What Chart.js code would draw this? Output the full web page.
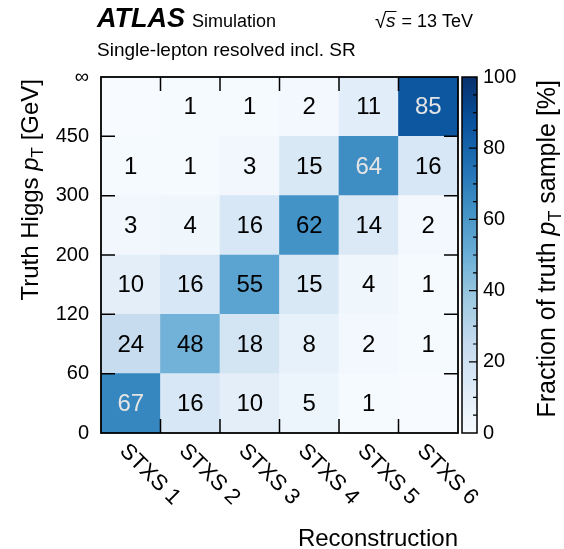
<!DOCTYPE html>
<html>
<head>
<meta charset="utf-8">
<script src="https://cdn.jsdelivr.net/npm/chart.js@4.4.0/dist/chart.umd.min.js"></script>
<style>
  html, body { margin: 0; padding: 0; background: #fff; }
  #grafico { position: relative; width: 564px; height: 549px; }
</style>
</head>
<body>
<div id="grafico"><canvas id="matrizMigracao" width="564" height="549"></canvas></div>
<script>
// Categorias reconstruídas (eixo x) e limites dos bins de pT verdadeiro (eixo y)
const categorias = ['STXS 1', 'STXS 2', 'STXS 3', 'STXS 4', 'STXS 5', 'STXS 6'];
const limitesPt = ['0', '60', '120', '200', '300', '450', '\u221E'];

// Fração (%) de cada bin verdadeiro em cada categoria; null = célula sem rótulo
const bin0a60 = [67, 16, 10, 5, 1, null];
const bin60a120 = [24, 48, 18, 8, 2, 1];
const bin120a200 = [10, 16, 55, 15, 4, 1];
const bin200a300 = [3, 4, 16, 62, 14, 2];
const bin300a450 = [1, 1, 3, 15, 64, 16];
const bin450aInf = [null, 1, 1, 2, 11, 85];
const linhas = [bin0a60, bin60a120, bin120a200, bin200a300, bin300a450, bin450aInf];

// Escala de cores da barra lateral
const ticksBarra = [0, 20, 40, 60, 80, 100];

const FONTE = '"Liberation Sans", Arial, Helvetica, sans-serif';

// Mapa de cores "Blues"
const paletaBlues = ['#f7fbff', '#deebf7', '#c6dbef', '#9ecae1', '#6baed6', '#4292c6', '#2171b5', '#08519c', '#08306b'];

function hexParaRgb(hex) {
    return [1, 3, 5].map(i => parseInt(hex.substr(i, 2), 16));
}

function corBlues(f) {
    f = Math.max(0, Math.min(1, f));
    const pos = f * (paletaBlues.length - 1);
    const i = Math.min(Math.floor(pos), paletaBlues.length - 2);
    const t = pos - i;
    const a = hexParaRgb(paletaBlues[i]);
    const b = hexParaRgb(paletaBlues[i + 1]);
    const c = a.map((v, k) => Math.round(v + (b[k] - v) * t));
    return `rgb(${c[0]}, ${c[1]}, ${c[2]})`;
}

// Escreve texto com trechos de fontes diferentes (itálico, subscrito)
function larguraRica(ctx, partes) {
    let total = 0;
    partes.forEach(p => {
        ctx.font = p.fonte;
        total += ctx.measureText(p.texto).width;
    });
    return total;
}

function desenharRico(ctx, partes, x, y) {
    ctx.textAlign = 'left';
    ctx.textBaseline = 'alphabetic';
    partes.forEach(p => {
        ctx.font = p.fonte;
        ctx.fillText(p.texto, x, y + (p.dy || 0));
        x += ctx.measureText(p.texto).width;
    });
}

function tituloComPt(antes, depois, tamanho) {
    return [
        { texto: antes, fonte: `${tamanho}px ${FONTE}` },
        { texto: 'p', fonte: `italic ${tamanho}px ${FONTE}` },
        { texto: 'T', fonte: `${Math.round(tamanho * 0.7)}px ${FONTE}`, dy: tamanho * 0.22 },
        { texto: depois, fonte: `${tamanho}px ${FONTE}` }
    ];
}

const datasets = linhas.map((valores, i) => ({
    label: limitesPt[i] + '-' + limitesPt[i + 1],
    data: valores.map(() => [i, i + 1]),
    valores: valores,
    backgroundColor: valores.map(v => corBlues((v || 0) / 100)),
    borderWidth: 0,
    barPercentage: 1,
    categoryPercentage: 1,
    grouped: false
}));

const decoracao = {
    id: 'decoracao',
    afterDatasetsDraw(chart) {
        const ctx = chart.ctx;
        const area = chart.chartArea;
        const sx = chart.scales.x;
        const sy = chart.scales.y;
        const sc = chart.scales.barra;
        ctx.save();

        // Números dentro das células
        ctx.font = `24px ${FONTE}`;
        ctx.textAlign = 'center';
        ctx.textBaseline = 'middle';
        chart.data.datasets.forEach((ds, i) => {
            const meta = chart.getDatasetMeta(i);
            meta.data.forEach((barra, j) => {
                const v = ds.valores[j];
                if (v === null) return;
                const c = barra.getCenterPoint();
                ctx.fillStyle = v > 63 ? '#e4e4e4' : '#000';
                ctx.fillText(String(v), c.x, c.y + 1);
            });
        });

        // Moldura e marcas internas
        ctx.strokeStyle = '#000';
        ctx.lineWidth = 1.8;
        ctx.strokeRect(area.left, area.top, area.right - area.left, area.bottom - area.top);
        ctx.lineWidth = 1.5;
        const tam = 14;
        ctx.beginPath();
        for (let k = 1; k < limitesPt.length - 1; k++) {
            const py = sy.getPixelForValue(k);
            ctx.moveTo(area.left, py); ctx.lineTo(area.left + tam, py);
            ctx.moveTo(area.right, py); ctx.lineTo(area.right - tam, py);
        }
        for (let j = 0; j < categorias.length - 1; j++) {
            const px = (sx.getPixelForValue(j) + sx.getPixelForValue(j + 1)) / 2;
            ctx.moveTo(px, area.top); ctx.lineTo(px, area.top + tam);
            ctx.moveTo(px, area.bottom); ctx.lineTo(px, area.bottom - tam);
        }
        ctx.stroke();

        // Barra de cores
        const bx0 = area.right + 4;
        const bx1 = area.right + 19;
        const by0 = sc.getPixelForValue(100);
        const by1 = sc.getPixelForValue(0);
        const grad = ctx.createLinearGradient(0, by1, 0, by0);
        paletaBlues.forEach((cor, k) => grad.addColorStop(k / (paletaBlues.length - 1), cor));
        ctx.fillStyle = grad;
        ctx.fillRect(bx0, by0, bx1 - bx0, by1 - by0);
        ctx.lineWidth = 1.5;
        ctx.strokeRect(bx0, by0, bx1 - bx0, by1 - by0);
        ctx.lineWidth = 1.2;
        ctx.beginPath();
        for (let v = 5; v < 100; v += 5) {
            const py = sc.getPixelForValue(v);
            const comp = v % 20 === 0 ? 8 : 4;
            ctx.moveTo(bx1, py); ctx.lineTo(bx1 - comp, py);
        }
        ctx.stroke();

        // Rótulos das categorias, inclinados 45°
        ctx.fillStyle = '#000';
        ctx.font = `22px ${FONTE}`;
        ctx.textAlign = 'left';
        ctx.textBaseline = 'top';
        categorias.forEach((nome, j) => {
            ctx.save();
            ctx.translate(sx.getPixelForValue(j), area.bottom + 7);
            ctx.rotate(Math.PI / 4);
            ctx.fillText(nome, 0, 0);
            ctx.restore();
        });

        // Títulos dos eixos
        ctx.font = `24px ${FONTE}`;
        ctx.textAlign = 'right';
        ctx.textBaseline = 'alphabetic';
        ctx.fillText('Reconstruction', area.right, 546);

        const tituloY = tituloComPt('Truth Higgs ', ' [GeV]', 24);
        ctx.save();
        ctx.translate(38, area.top + 2);
        ctx.rotate(-Math.PI / 2);
        desenharRico(ctx, tituloY, -larguraRica(ctx, tituloY), 0);
        ctx.restore();

        const tituloBarra = tituloComPt('Fraction of truth ', ' sample [%]', 25);
        ctx.save();
        ctx.translate(555, area.top + 3);
        ctx.rotate(-Math.PI / 2);
        desenharRico(ctx, tituloBarra, -larguraRica(ctx, tituloBarra), 0);
        ctx.restore();

        // Cabeçalho
        ctx.font = `italic bold 27px ${FONTE}`;
        ctx.textAlign = 'left';
        ctx.fillText('ATLAS', 97, 27);
        ctx.font = `18px ${FONTE}`;
        ctx.fillText('Simulation', 192, 27);
        ctx.font = `19px ${FONTE}`;
        ctx.fillText('Single-lepton resolved incl. SR', 97, 56);

        // √s = 13 TeV
        const resto = ' = 13 TeV';
        ctx.font = `18px ${FONTE}`;
        const wResto = ctx.measureText(resto).width;
        const xFim = 473;
        ctx.fillText(resto, xFim - wResto, 27);
        ctx.font = `italic 19px ${FONTE}`;
        const wS = ctx.measureText('s').width;
        const xS = xFim - wResto - wS - 1;
        ctx.fillText('s', xS, 27);
        ctx.font = `20px ${FONTE}`;
        const wRaiz = ctx.measureText('\u221A').width;
        ctx.fillText('\u221A', xS - wRaiz, 28);
        ctx.lineWidth = 1;
        ctx.beginPath();
        ctx.moveTo(xS - 1, 11.5);
        ctx.lineTo(xS + wS + 1, 11.5);
        ctx.stroke();

        ctx.restore();
    }
};

new Chart(document.getElementById('matrizMigracao'), {
    type: 'bar',
    data: { labels: categorias, datasets: datasets },
    options: {
        responsive: false,
        animation: false,
        events: [],
        layout: { padding: { top: 77, bottom: 116, left: 0, right: 0 } },
        plugins: {
            legend: { display: false },
            tooltip: { enabled: false }
        },
        scales: {
            x: { type: 'category', display: false },
            y: {
                type: 'linear',
                position: 'left',
                min: 0,
                max: 6,
                ticks: {
                    stepSize: 1,
                    autoSkip: false,
                    padding: 12,
                    color: '#000',
                    font: { family: FONTE, size: 20 },
                    callback: v => limitesPt[v]
                },
                grid: { display: false, drawTicks: false },
                border: { display: false },
                afterFit: s => { s.width = 101; }
            },
            barra: {
                type: 'linear',
                position: 'right',
                min: 0,
                max: 100,
                afterBuildTicks: s => { s.ticks = ticksBarra.map(v => ({ value: v })); },
                ticks: {
                    padding: 25,
                    color: '#000',
                    font: { family: FONTE, size: 20 }
                },
                grid: { display: false, drawTicks: false },
                border: { display: false },
                afterFit: s => { s.width = 106; }
            }
        }
    },
    plugins: [decoracao]
});
</script>
</body>
</html>
